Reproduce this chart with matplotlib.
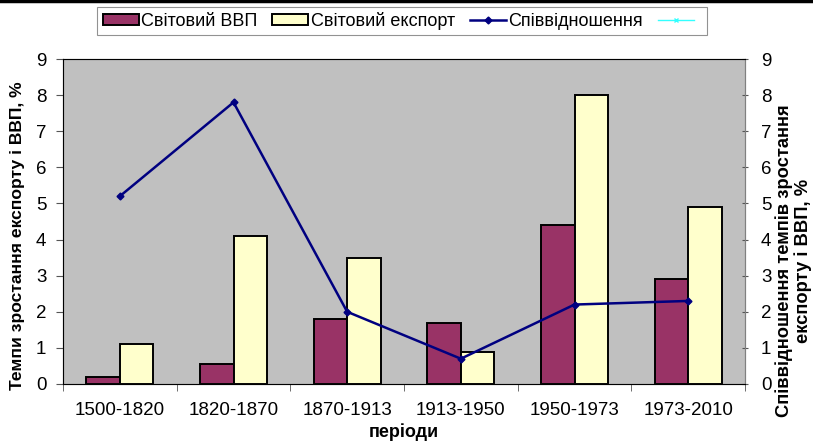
import matplotlib
matplotlib.use("Agg")
import matplotlib.pyplot as plt
import numpy as np
from matplotlib.lines import Line2D

periods = ["1500-1820", "1820-1870", "1870-1913", "1913-1950", "1950-1973", "1973-2010"]
gdp = [0.2, 0.55, 1.8, 1.7, 4.4, 2.9]
export = [1.1, 4.1, 3.5, 0.9, 8.0, 4.9]
ratio = [5.2, 7.8, 2.0, 0.7, 2.2, 2.3]

plt.rcParams["font.family"] = ["Liberation Sans", "DejaVu Sans"]

W, H = 813, 446
fig = plt.figure(figsize=(W / 100, H / 100), dpi=100)
ax = fig.add_axes([63 / W, 1 - 384 / H, 682 / W, 325 / H])
ax.set_facecolor("#c0c0c0")

x = np.arange(len(periods))
w = 0.295
b1 = ax.bar(x - w / 2, gdp, w, color="#993366", edgecolor="black", linewidth=1.4, zorder=2)
b2 = ax.bar(x + w / 2, export, w, color="#ffffcc", edgecolor="black", linewidth=1.4, zorder=2)

ax.set_xlim(-0.5, len(periods) - 0.5)
ax.set_ylim(0, 9)
ax.set_yticks(range(10))
ax.set_xticks(x)
ax.set_xticklabels(periods, fontsize=13.5)
ax.set_xticks(np.arange(-0.5, len(periods)), minor=True)
ax.tick_params(axis="x", which="major", length=0, pad=13)
ax.tick_params(axis="x", which="minor", length=5, direction="out", color="#555555")
ax.tick_params(axis="y", labelsize=13.5, length=5, direction="out", color="#555555", pad=7)
for s in ax.spines.values():
    s.set_color("#808080")

ax2 = ax.twinx()
ln, = ax2.plot(x, ratio, color="#000080", linewidth=1.8, marker="D", markersize=3.5, zorder=3)
ax2.set_ylim(0, 9)
ax2.set_yticks(range(10))
ax2.tick_params(axis="y", labelsize=13.5, length=5, direction="inout", color="#555555", pad=9)
ax2.spines["right"].set_color("#808080")

# axis titles
fig.text(404 / W, 1 - 432 / H, "періоди", fontsize=13, fontweight="bold", ha="center", va="center")
fig.text(18 / W, 1 - 236 / H, "Темпи зростання експорту і ВВП, %", fontsize=12.6, fontweight="bold",
         rotation=90, ha="center", va="center")
fig.text(784 / W, 1 - 261 / H, "Співвідношення темпів зростання", fontsize=13.2, fontweight="bold",
         rotation=90, ha="center", va="center")
fig.text(803 / W, 1 - 261 / H, "експорту і ВВП, %", fontsize=13.2, fontweight="bold",
         rotation=90, ha="center", va="center")

extra = Line2D([], [], color="#33ffff", linewidth=1, marker="x", markersize=3)
leg = fig.legend([b1, b2, ln, extra], ["Світовий ВВП", "Світовий експорт", "Співвідношення", " "],
                 loc="center", bbox_to_anchor=(402 / W, 1 - 21 / H), ncol=4,
                 fontsize=13, frameon=True, fancybox=False, edgecolor="#777777",
                 handlelength=2.0, handleheight=0.55, handletextpad=0.15, columnspacing=0.8,
                 borderpad=0.3, borderaxespad=0)
leg.get_frame().set_linewidth(0.8)

fig.add_artist(Line2D([0, 1], [0.997, 0.997], color="black", linewidth=2.5, transform=fig.transFigure))

fig.savefig("out.png", dpi=100)
